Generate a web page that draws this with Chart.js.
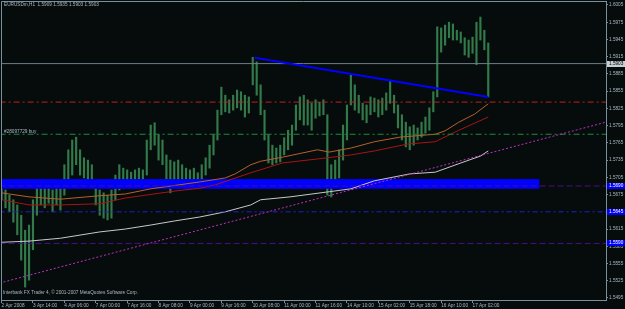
<!DOCTYPE html>
<html>
<head>
<meta charset="utf-8">
<script src="https://cdn.jsdelivr.net/npm/chart.js@4.4.1/dist/chart.umd.min.js"></script>
<style>
  html, body { margin: 0; padding: 0; background: #060c0c; overflow: hidden; }
  canvas { display: block; }
</style>
</head>
<body>
<canvas id="canvas" width="625" height="309"></canvas>
<script>
// EURUSDm H1, one range bar per 2 hours (hour index 0 = 2 Apr 2008 22:00)
var timeLabels = ['2 Apr 2008', '3 Apr 14:00', '4 Apr 06:00', '7 Apr 00:00', '7 Apr 16:00', '8 Apr 08:00',
    '9 Apr 00:00', '9 Apr 16:00', '10 Apr 08:00', '11 Apr 00:00', '11 Apr 16:00', '14 Apr 10:00',
    '15 Apr 02:00', '15 Apr 18:00', '16 Apr 10:00', '17 Apr 02:00'];
var priceTicks = [1.5495, 1.5525, 1.5555, 1.5585, 1.5615, 1.5645, 1.5675, 1.5705, 1.5735,
    1.5765, 1.5795, 1.5825, 1.5855, 1.5885, 1.5915, 1.5945, 1.5975, 1.6005];

var barLow = [1.5666, 1.5652, 1.5645, 1.5627, 1.5605, 1.5561, 1.5514, 1.5526, 1.5579, 1.5639,
    1.5657, 1.5652, 1.5660, 1.5645, 1.5657, 1.5648, 1.5674, 1.5692, 1.5709, 1.5727,
    1.5709, 1.5704, 1.5697, 1.5686, 1.5657, 1.5639, 1.5634, 1.5631, 1.5634, 1.5666,
    1.5683, 1.5686, 1.5692, 1.5695, 1.5697, 1.5700, 1.5695, 1.5709, 1.5753, 1.5761,
    1.5735, 1.5727, 1.5692, 1.5678, 1.5692, 1.5697, 1.5688, 1.5695, 1.5692, 1.5697,
    1.5692, 1.5700, 1.5709, 1.5721, 1.5744, 1.5770, 1.5814, 1.5819, 1.5817, 1.5822,
    1.5826, 1.5822, 1.5810, 1.5817, 1.5866, 1.5848, 1.5814, 1.5770, 1.5730, 1.5727,
    1.5730, 1.5732, 1.5744, 1.5753, 1.5761, 1.5787, 1.5805, 1.5796, 1.5796, 1.5787,
    1.5808, 1.5812, 1.5814, 1.5674, 1.5671, 1.5697, 1.5704, 1.5735, 1.5770, 1.5831,
    1.5822, 1.5817, 1.5805, 1.5800, 1.5814, 1.5819, 1.5810, 1.5814, 1.5822, 1.5834,
    1.5817, 1.5791, 1.5770, 1.5758, 1.5753, 1.5761, 1.5770, 1.5775, 1.5782, 1.5787,
    1.5819, 1.5845, 1.5923, 1.5935, 1.5948, 1.5944, 1.5944, 1.5939, 1.5918, 1.5914,
    1.5921, 1.5901, 1.5944, 1.5927, 1.5845];
var barHigh = [1.5690, 1.5683, 1.5674, 1.5666, 1.5657, 1.5639, 1.5613, 1.5622, 1.5666, 1.5686,
    1.5692, 1.5686, 1.5692, 1.5683, 1.5692, 1.5686, 1.5727, 1.5753, 1.5770, 1.5775,
    1.5753, 1.5739, 1.5735, 1.5727, 1.5700, 1.5683, 1.5678, 1.5674, 1.5683, 1.5709,
    1.5727, 1.5721, 1.5718, 1.5714, 1.5718, 1.5721, 1.5718, 1.5770, 1.5796, 1.5800,
    1.5779, 1.5770, 1.5744, 1.5735, 1.5732, 1.5735, 1.5727, 1.5721, 1.5718, 1.5721,
    1.5713, 1.5727, 1.5739, 1.5761, 1.5779, 1.5822, 1.5862, 1.5848, 1.5840, 1.5848,
    1.5857, 1.5854, 1.5848, 1.5845, 1.5914, 1.5906, 1.5866, 1.5822, 1.5779, 1.5761,
    1.5756, 1.5761, 1.5774, 1.5787, 1.5796, 1.5831, 1.5845, 1.5848, 1.5840, 1.5834,
    1.5840, 1.5836, 1.5840, 1.5814, 1.5727, 1.5735, 1.5753, 1.5796, 1.5831, 1.5883,
    1.5866, 1.5848, 1.5834, 1.5831, 1.5845, 1.5843, 1.5840, 1.5843, 1.5852, 1.5874,
    1.5848, 1.5831, 1.5814, 1.5801, 1.5793, 1.5796, 1.5791, 1.5801, 1.5810, 1.5826,
    1.5854, 1.5967, 1.5965, 1.5970, 1.5975, 1.5972, 1.5961, 1.5958, 1.5948, 1.5944,
    1.5949, 1.5975, 1.5984, 1.5961, 1.5939];

// moving averages, read at a few hours each
var maOrangeHours = [0, 14, 30, 50, 63, 76, 101, 114, 119, 127, 132, 143, 161, 167, 178, 190, 203, 221, 226, 233, 241, 248];
var maOrange = [1.5678, 1.5671, 1.5667, 1.5673, 1.5676, 1.5685, 1.5697, 1.5704, 1.5711, 1.5727, 1.5733,
    1.5740, 1.5753, 1.5749, 1.5756, 1.5767, 1.5775, 1.5780, 1.5786, 1.5801, 1.5815, 1.5833];
var maRedHours = [0, 14, 30, 50, 63, 88, 101, 109, 127, 143, 161, 178, 190, 207, 221, 233, 248];
var maRed = [1.5666, 1.5657, 1.5657, 1.5659, 1.5669, 1.5681, 1.5686, 1.5692, 1.5713, 1.5730, 1.5737,
    1.5744, 1.5751, 1.5763, 1.5767, 1.5787, 1.5810];
var maWhiteHours = [0, 14, 30, 50, 63, 76, 88, 101, 114, 127, 132, 147, 167, 178, 190, 208, 221, 234, 244, 248];
var maWhite = [1.5592, 1.5594, 1.5599, 1.5610, 1.5615, 1.5622, 1.5629, 1.5636, 1.5645, 1.5657, 1.5666,
    1.5671, 1.5680, 1.5685, 1.5699, 1.5711, 1.5714, 1.5730, 1.5742, 1.5751];

// objects on the chart
var trendBlueHours = [129, 248];
var trendBlue = [1.5913, 1.5845];
var trendPinkHours = [-1, 309];
var trendPink = [1.5521, 1.5802];
var bidPrice = 1.5903;
var redLevel = 1.5836;
var buyLevel = 1.5780;
var blueLevel = 1.5645;
var purpleLevels = [1.5690, 1.5590];
var bandHours = [-1, 274];
var bandPrices = [1.5685, 1.5702];
var axisMarks = [1.5903, 1.5690, 1.5645, 1.5590];

var FONT = "'Liberation Sans', Arial, sans-serif";
var fg = '#aab8c4';
var frame = '#7a8e9c';

function pts(hours, vals) {
    return hours.map(function(h, i) { return { x: h, y: vals[i] }; });
}
function hline(v, color, dash) {
    return { type: 'line', data: [{ x: -1, y: v }, { x: 309, y: v }], borderColor: color, borderWidth: 1,
        borderDash: dash, pointRadius: 0, fill: false, order: 3 };
}

var bars = barLow.map(function(lo, i) { return { x: i * 2, y: [lo, barHigh[i]] }; });

var mt4Overlay = {
    id: 'mt4Overlay',
    // the rectangle object sits over the price bars, under indicators and lines
    afterDatasetDraw: function(chart, args) {
        if (args.meta.type !== 'bar') return;
        var ctx = chart.ctx, xs = chart.scales.x, ys = chart.scales.y, a = chart.chartArea;
        ctx.save();
        ctx.beginPath();
        ctx.rect(a.left, a.top, a.right - a.left, a.bottom - a.top);
        ctx.clip();
        var x0 = xs.getPixelForValue(bandHours[0]), x1 = xs.getPixelForValue(bandHours[1]);
        var y0 = ys.getPixelForValue(bandPrices[1]), y1 = ys.getPixelForValue(bandPrices[0]);
        ctx.fillStyle = '#0000ff';
        ctx.fillRect(x0, y0, x1 - x0, y1 - y0);
        ctx.restore();
    },
    afterDraw: function(chart) {
        var ctx = chart.ctx, ys = chart.scales.y, a = chart.chartArea;
        ctx.save();
        ctx.strokeStyle = frame;
        ctx.lineWidth = 1;
        ctx.beginPath();
        ctx.moveTo(a.left + 0.5, a.bottom);
        ctx.lineTo(a.left + 0.5, a.top + 0.5);
        ctx.lineTo(a.right, a.top + 0.5);
        ctx.stroke();

        ctx.font = '4.7px ' + FONT;
        ctx.textBaseline = 'middle';
        ctx.textAlign = 'left';
        ctx.fillStyle = fg;
        ctx.fillText('EURUSDm,H1  1.5909 1.5935 1.5903 1.5903', 4, 5);
        ctx.fillText('Interbank FX Trader 4, \u00a9 2001-2007 MetaQuotes Software Corp.', 3, 293);
        ctx.fillText('#28097729 buy', 4, ys.getPixelForValue(buyLevel) - 3);

        axisMarks.forEach(function(v, i) {
            var py = Math.round(ys.getPixelForValue(v));
            ctx.fillStyle = i === 0 ? '#c8d0d6' : '#0000ff';
            ctx.fillRect(a.right + 1, py - 3, 625 - a.right - 1, 6);
            ctx.fillStyle = i === 0 ? '#000000' : '#ffffff';
            ctx.fillText(v.toFixed(4), a.right + 3, py);
        });
        ctx.restore();
    }
};

var config = {
    type: 'bar',
    data: {
        datasets: [
            { type: 'line', data: pts(trendBlueHours, trendBlue), borderColor: '#0000ff', borderWidth: 2,
                pointRadius: 0, fill: false, order: 1 },
            { type: 'line', data: pts(trendPinkHours, trendPink), borderColor: '#c030c0', borderWidth: 1,
                borderDash: [2, 2], pointRadius: 0, fill: false, order: 2 },
            hline(bidPrice, '#6f7d88', []),
            hline(redLevel, '#c02020', [6, 3, 2, 3]),
            hline(buyLevel, '#20883c', [6, 3, 2, 3]),
            hline(blueLevel, '#2020d0', [5, 3, 2, 3]),
            hline(purpleLevels[0], '#48108a', [6, 3]),
            hline(purpleLevels[1], '#48108a', [6, 3]),
            { type: 'line', data: pts(maWhiteHours, maWhite), borderColor: '#c8c8c8', borderWidth: 1,
                pointRadius: 0, fill: false, order: 5 },
            { type: 'line', data: pts(maRedHours, maRed), borderColor: '#a81414', borderWidth: 1,
                pointRadius: 0, fill: false, order: 5 },
            { type: 'line', data: pts(maOrangeHours, maOrange), borderColor: '#b8602c', borderWidth: 1,
                pointRadius: 0, fill: false, order: 5 },
            { type: 'bar', data: bars, backgroundColor: '#327a4a', barThickness: 1.5, grouped: false, order: 10 }
        ]
    },
    options: {
        responsive: false,
        animation: false,
        events: [],
        layout: { padding: { left: 1, top: 1, right: 0, bottom: 0 } },
        plugins: { legend: { display: false }, tooltip: { enabled: false } },
        scales: {
            x: {
                type: 'linear', position: 'bottom', min: -0.29, max: 308, offset: false,
                afterFit: function(s) { s.height = 9; s.paddingLeft = 0; s.paddingRight = 0; },
                afterBuildTicks: function(s) { s.ticks = timeLabels.map(function(t, i) { return { value: i * 16 }; }); },
                ticks: {
                    callback: function(v, i) { return timeLabels[i]; },
                    align: 'start', padding: 0, autoSkip: false, maxRotation: 0, minRotation: 0,
                    color: fg, font: { family: FONT, size: 4.7 }
                },
                grid: { drawOnChartArea: false, offset: false, tickLength: 3, color: frame },
                border: { color: frame }
            },
            y: {
                position: 'right', min: 1.549151, max: 1.601196,
                afterFit: function(s) { s.width = 19; s.paddingTop = 0; s.paddingBottom = 0; },
                afterBuildTicks: function(s) { s.ticks = priceTicks.map(function(v) { return { value: v }; }); },
                ticks: {
                    callback: function(v) { return v.toFixed(4); },
                    padding: 1, crossAlign: 'near', color: fg, font: { family: FONT, size: 4.7 }
                },
                grid: { drawOnChartArea: false, tickLength: 2, color: frame },
                border: { color: frame }
            }
        }
    },
    plugins: [mt4Overlay]
};

window.onload = function() {
    window.myChart = new Chart(document.getElementById('canvas'), config);
};
</script>
</body>
</html>
